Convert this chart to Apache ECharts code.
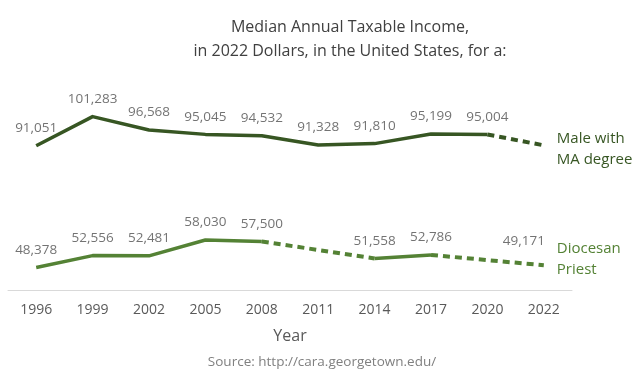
<!DOCTYPE html>
<html>
<head>
<meta charset="utf-8">
<script src="https://cdn.jsdelivr.net/npm/echarts@6/dist/echarts.min.js"></script>
<style>
html,body{margin:0;padding:0;background:#fff;}
#chart{width:640px;height:374px;}
</style>
</head>
<body>
<div id="chart"></div>
<script>
// ---- data ----
const years = ['1996','1999','2002','2005','2008','2011','2014','2017','2020','2022'];
const maleIncome = [91051,101283,96568,95045,94532,91328,91810,95199,95004,91200];
const maleReported = [true,true,true,true,true,true,true,true,true,false];
const priestIncome = [48378,52556,52481,58030,57500,null,51558,52786,null,49171];
const priestReported = [true,true,true,true,true,false,true,true,false,true];
const titleLines = ['Median Annual Taxable Income,', 'in 2022 Dollars, in the United States, for a:'];
const maleName = 'Male with\nMA degree';
const priestName = 'Diocesan\nPriest';
const sourceText = 'Source: http://cara.georgetown.edu/';

const maleColor = '#375623';
const priestColor = '#548235';
const fontFam = '"Open Sans", Calibri, sans-serif';

function runs(values, reported){
  const idx = [];
  values.forEach((v,i)=>{ if(v!=null) idx.push(i); });
  const out = []; let cur = null;
  for(let k=0;k<idx.length-1;k++){
    const a = idx[k], b = idx[k+1];
    const dashed = (b-a>1) || !reported[a] || !reported[b];
    if(cur && cur.dashed===dashed){ cur.end=b; }
    else { cur={start:a,end:b,dashed:dashed}; out.push(cur); }
  }
  return out;
}

function lineSeries(values, reported, color, endName, endOffset){
  const rs = runs(values, reported);
  return rs.map((r,ri)=>{
    const s = {
      type:'line',
      data: values.map((v,i)=> (i>=r.start && i<=r.end) ? v : null),
      connectNulls: r.dashed,
      symbol:'none',
      silent:true,
      z: r.dashed?2:3,
      lineStyle:{color:color, width: r.dashed?4:3.5, type: r.dashed?[7,5]:'solid', cap:'butt', join:'round'},
      animation:false
    };
    if(ri===rs.length-1){
      s.endLabel = {show:true, formatter:endName, color:color, fontSize:15, fontFamily:fontFam,
        lineHeight:21, distance:13, align:'left', verticalAlign:'middle', offset:endOffset};
    }
    return s;
  });
}

function labelSeries(values, reported, specialOffsets){
  return {
    type:'scatter',
    symbolSize:1,
    silent:true,
    itemStyle:{color:'rgba(0,0,0,0)'},
    data: values.map((v,i)=>{
      if(v==null || !reported[i]) return null;
      const item = {value:v};
      if(specialOffsets[i]) item.label = {offset:specialOffsets[i]};
      return item;
    }),
    label:{show:true, position:'top', distance:10, color:'#505050', fontSize:13.5, fontFamily:fontFam,
      formatter:p=>p.value.toLocaleString('en-US')},
    animation:false,
    z:5
  };
}

const chart = echarts.init(document.getElementById('chart'));
chart.setOption({
  backgroundColor:'#ffffff',
  animation:false,
  grid:{left:8, right:68, top:90, bottom:84},
  xAxis:{
    type:'category', data:years, boundaryGap:true,
    axisLine:{show:true, lineStyle:{color:'#d9d9d9', width:1}},
    axisTick:{show:false},
    axisLabel:{color:'#595959', fontSize:14, fontFamily:fontFam, margin:13},
    name:'Year', nameLocation:'middle', nameGap:38,
    nameTextStyle:{color:'#595959', fontSize:16, fontFamily:fontFam}
  },
  yAxis:{type:'value', min:40500, max:110600, show:false, splitLine:{show:false}},
  graphic:[
    {type:'text', x:350, y:27, style:{text:titleLines[0], fill:'#404040', font:'16px '+fontFam, textAlign:'center', textVerticalAlign:'middle'}},
    {type:'text', x:350, y:51, style:{text:titleLines[1], fill:'#404040', font:'16px '+fontFam, textAlign:'center', textVerticalAlign:'middle'}},
    {type:'text', x:322, y:362, style:{text:sourceText, fill:'#808080', font:'13.5px '+fontFam, textAlign:'center', textVerticalAlign:'middle'}}
  ],
  series:[
    ...lineSeries(maleIncome, maleReported, maleColor, maleName, [0,4]),
    ...lineSeries(priestIncome, priestReported, priestColor, priestName, [0,-6]),
    labelSeries(maleIncome, maleReported, {}),
    labelSeries(priestIncome, priestReported, {9:[-20,-7]})
  ]
});
</script>
</body>
</html>
